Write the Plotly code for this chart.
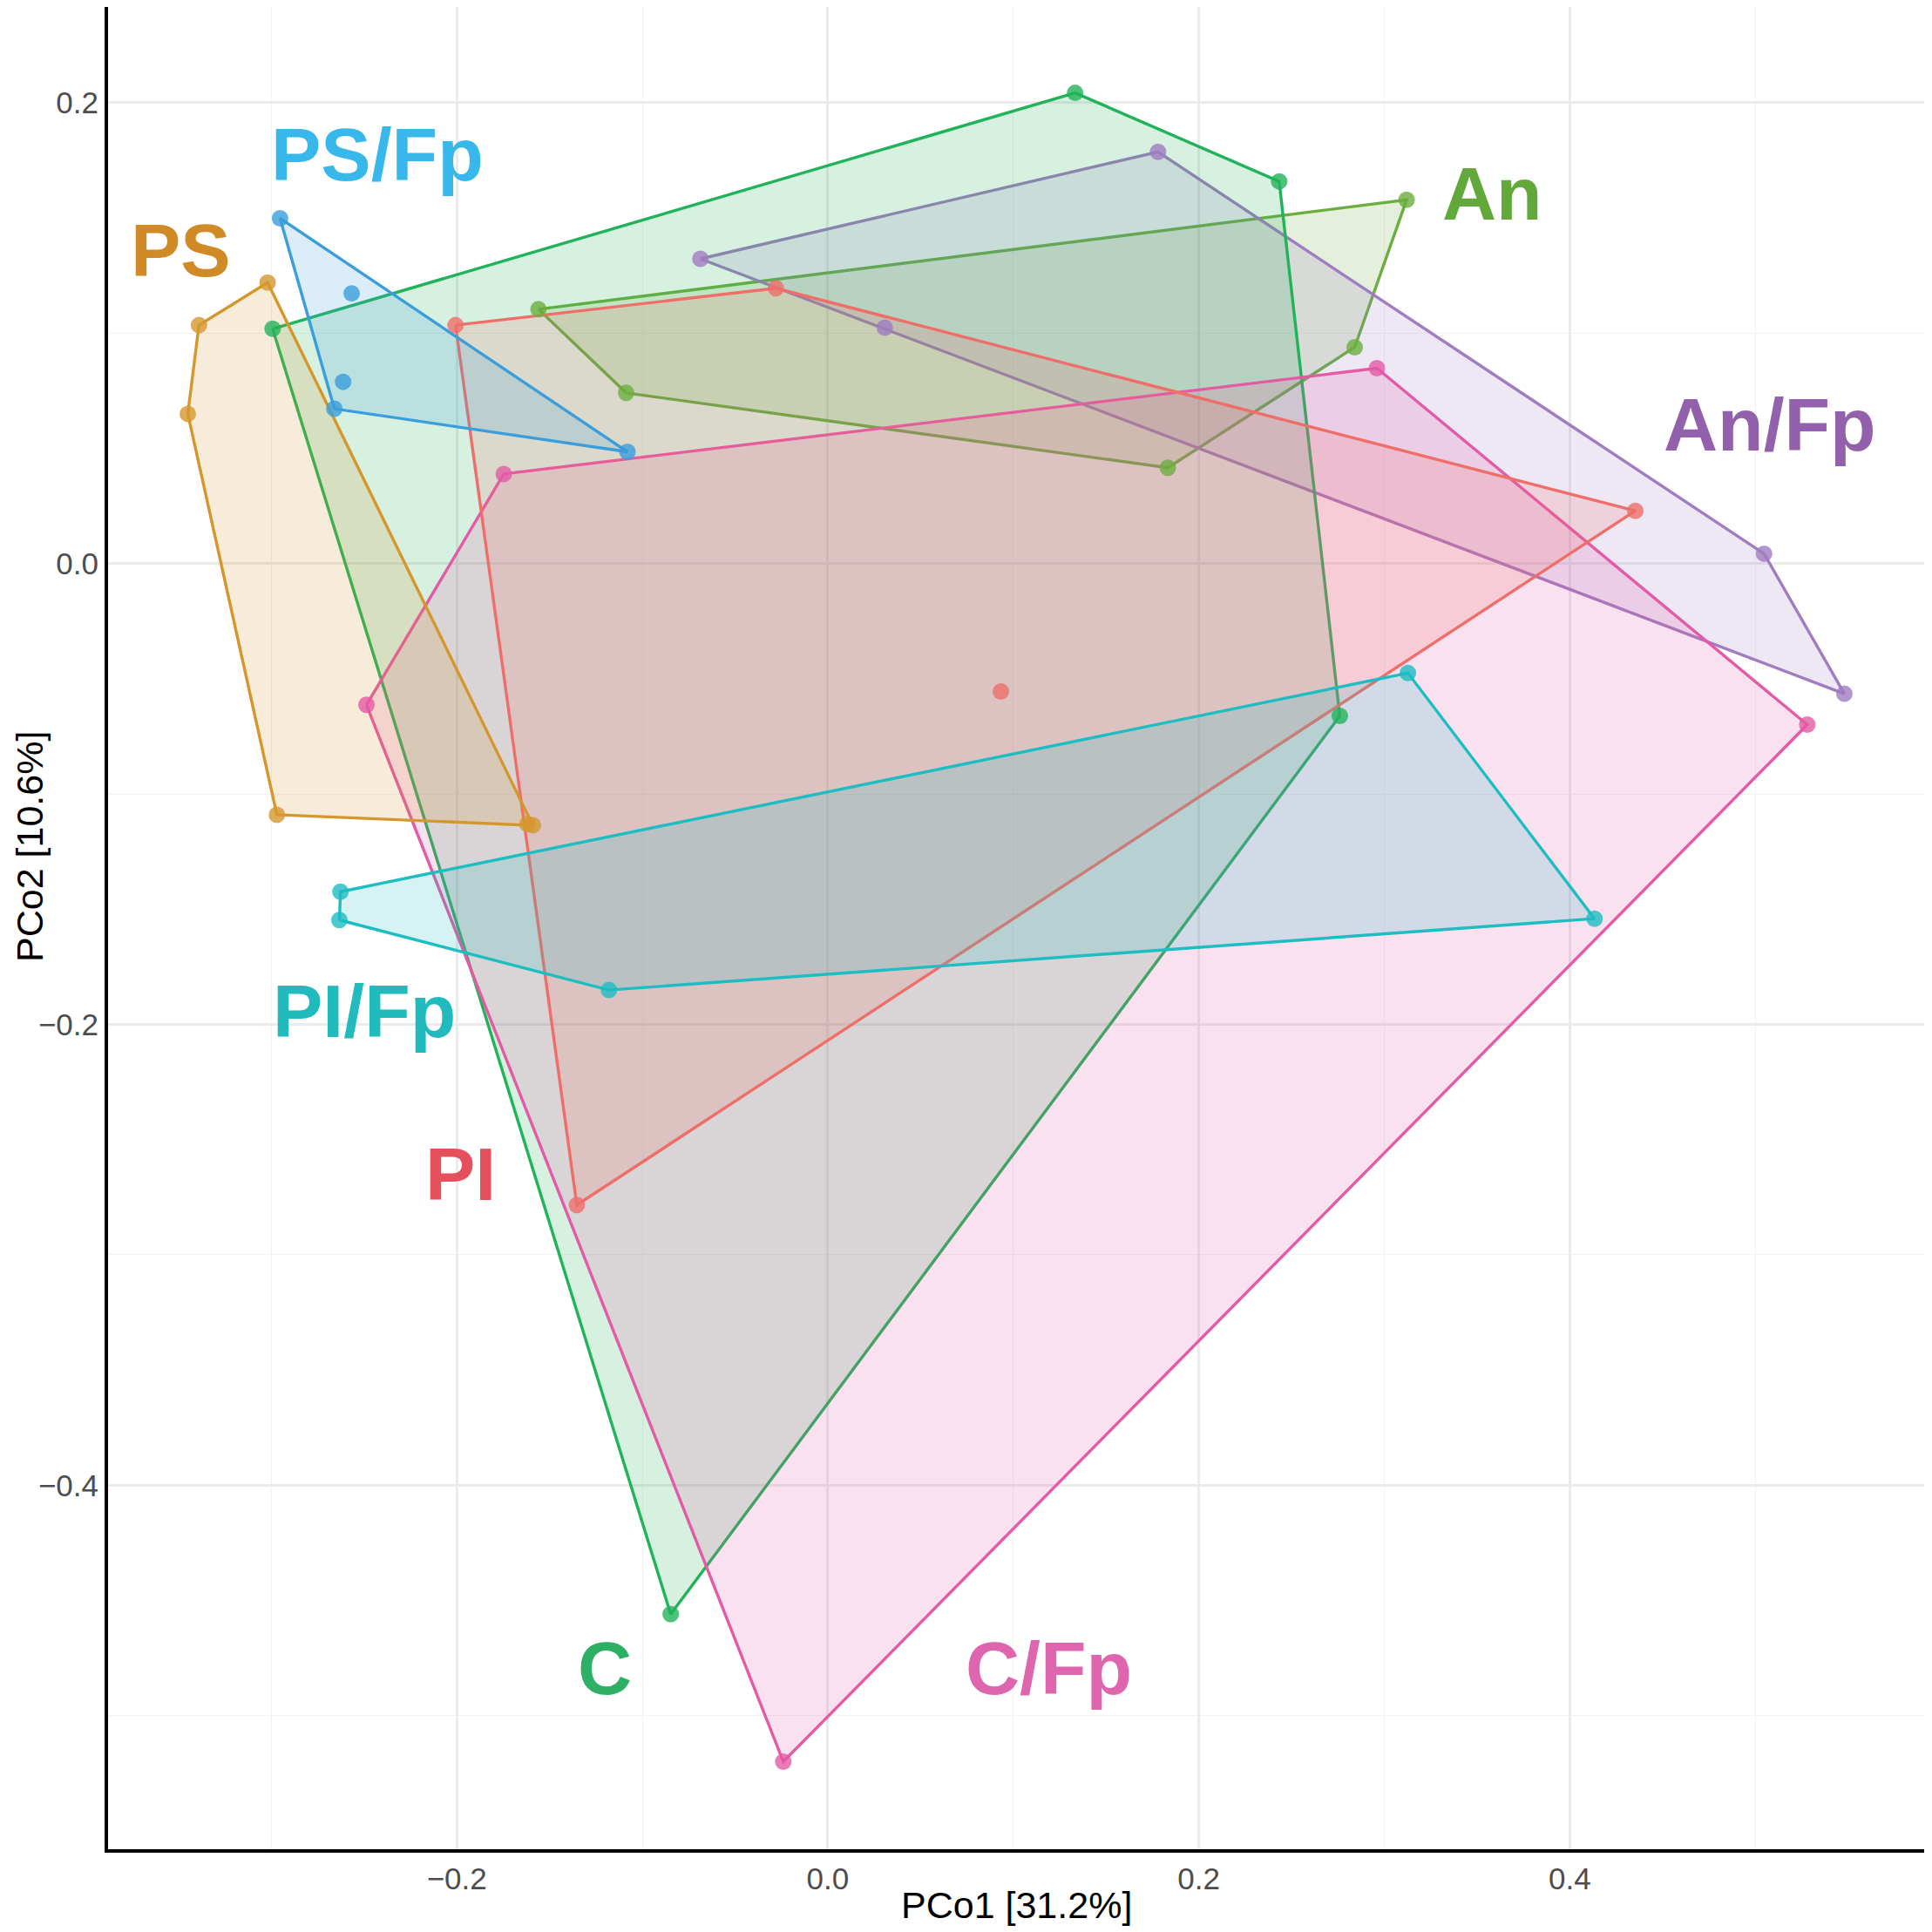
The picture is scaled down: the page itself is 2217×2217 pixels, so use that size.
"""PCoA 凸包图 — 各处理组 PCo1/PCo2 得分。"""

import plotly.graph_objects as go

# 组别及其样本得分 (PCo1, PCo2)
groups = ["An", "An/Fp", "C", "C/Fp", "PI", "PI/Fp", "PS", "PS/Fp"]

an_x = [-0.156, 0.312, 0.284, 0.1833, -0.1087]
an_y = [0.1104, 0.1579, 0.0939, 0.0416, 0.0741]

an_fp_x = [-0.0687, 0.178, 0.5047, 0.548, 0.0307]
an_fp_y = [0.1323, 0.1787, 0.0043, -0.0565, 0.1024]

c_x = [-0.2993, 0.1333, 0.2433, 0.276, -0.0847]
c_y = [0.1019, 0.2043, 0.1659, -0.0661, -0.456]

c_fp_x = [-0.1747, 0.296, 0.528, -0.024, -0.2487]
c_fp_y = [0.0389, 0.0848, -0.0699, -0.52, -0.0613]

pi_x = [-0.2007, -0.028, 0.4353, -0.1353, 0.0933]
pi_y = [0.1035, 0.1195, 0.0229, -0.2784, -0.0555]

pi_fp_x = [-0.2627, -0.2633, -0.118, 0.4133, 0.3127]
pi_fp_y = [-0.1424, -0.1547, -0.1851, -0.1541, -0.0475]

ps_x = [-0.339, -0.302, -0.345, -0.297, -0.159, -0.162]
ps_y = [0.1035, 0.122, 0.065, -0.109, -0.1136, -0.113]

ps_fp_x = [-0.2953, -0.2567, -0.2613, -0.266, -0.108]
ps_fp_y = [0.1499, 0.1173, 0.0789, 0.0672, 0.0485]

scores = {
    "An": (an_x, an_y),
    "An/Fp": (an_fp_x, an_fp_y),
    "C": (c_x, c_y),
    "C/Fp": (c_fp_x, c_fp_y),
    "PI": (pi_x, pi_y),
    "PI/Fp": (pi_fp_x, pi_fp_y),
    "PS": (ps_x, ps_y),
    "PS/Fp": (ps_fp_x, ps_fp_y),
}

# 组标签位置
label_x = [0.358, 0.508, -0.12, 0.1193, -0.198, -0.25, -0.3487, -0.2427]
label_y = [0.1605, 0.0603, -0.4795, -0.4795, -0.265, -0.1941, 0.136, 0.1776]

# 颜色
line_colors = {
    "An": "#6BAE3F", "An/Fp": "#A07CC0", "C": "#22B35A", "C/Fp": "#E35AA5",
    "PI": "#EE6F6A", "PI/Fp": "#1DBDC2", "PS": "#D4972E", "PS/Fp": "#3A9DDC",
}
label_colors = {
    "An": "#62A83A", "An/Fp": "#9361AB", "C": "#2DB066", "C/Fp": "#DE66AE",
    "PI": "#E5505D", "PI/Fp": "#21BBBE", "PS": "#D08B26", "PS/Fp": "#38B8EA",
}


def hex_rgba(hex_color, alpha):
    h = hex_color.lstrip("#")
    r, g, b = int(h[0:2], 16), int(h[2:4], 16), int(h[4:6], 16)
    return f"rgba({r},{g},{b},{alpha})"


def convex_hull(xs, ys):
    """单调链算法求凸包，返回闭合的顶点序列。"""
    pts = sorted(set(zip(xs, ys)))
    if len(pts) < 3:
        return pts

    def cross(o, a, b):
        return (a[0] - o[0]) * (b[1] - o[1]) - (a[1] - o[1]) * (b[0] - o[0])

    lower = []
    for p in pts:
        while len(lower) >= 2 and cross(lower[-2], lower[-1], p) <= 0:
            lower.pop()
        lower.append(p)
    upper = []
    for p in reversed(pts):
        while len(upper) >= 2 and cross(upper[-2], upper[-1], p) <= 0:
            upper.pop()
        upper.append(p)
    hull = lower[:-1] + upper[:-1]
    return hull + [hull[0]]


fig = go.Figure()

# 凸包多边形
for g in groups:
    xs, ys = scores[g]
    hull = convex_hull(xs, ys)
    fig.add_trace(
        go.Scatter(
            x=[p[0] for p in hull],
            y=[p[1] for p in hull],
            mode="lines",
            fill="toself",
            fillcolor=hex_rgba(line_colors[g], 0.18),
            line=dict(color=line_colors[g], width=3.4),
            hoverinfo="skip",
            showlegend=False,
        )
    )

# 样本点
for g in groups:
    xs, ys = scores[g]
    fig.add_trace(
        go.Scatter(
            x=xs,
            y=ys,
            mode="markers",
            marker=dict(color=line_colors[g], size=19, opacity=0.8),
            name=g,
            showlegend=False,
        )
    )

# 组名标签
for g, lx, ly in zip(groups, label_x, label_y):
    fig.add_annotation(
        x=lx, y=ly, text=f"<b>{g}</b>", showarrow=False,
        font=dict(family="Liberation Sans", size=86, color=label_colors[g]),
        xanchor="center", yanchor="middle",
    )

# 轴标题
fig.add_annotation(
    x=0.5, y=0, xref="paper", yref="paper", text="PCo1 [31.2%]",
    showarrow=False, yshift=-64, yanchor="middle",
    font=dict(family="Liberation Sans", size=43, color="black"),
)
fig.add_annotation(
    x=0, y=0.544, xref="paper", yref="paper", text="PCo2 [10.6%]",
    showarrow=False, xshift=-90, xanchor="center", textangle=-90,
    font=dict(family="Liberation Sans", size=43, color="black"),
)

axis_common = dict(
    showgrid=True,
    gridcolor="#EBEBEB",
    gridwidth=2.5,
    minor=dict(showgrid=True, gridcolor="#F2F2F2", gridwidth=1.3, dtick=0.1),
    zeroline=False,
    showline=True,
    linecolor="black",
    linewidth=4,
    ticks="",
    tickfont=dict(family="Liberation Sans", size=35, color="#4D4D4D"),
    tickformat=".1f",
    dtick=0.2,
    tick0=0,
)

fig.update_xaxes(range=[-0.388, 0.591], **axis_common)
fig.update_yaxes(range=[-0.558, 0.2416], **axis_common)

# 页面 body 自带约 8px 边距，故画布略小于窗口
fig.update_layout(
    width=2209,
    height=2209,
    margin=dict(l=116, r=9, t=0, b=95),
    plot_bgcolor="white",
    paper_bgcolor="white",
    font=dict(family="Liberation Sans"),
    showlegend=False,
)

fig.write_html("out.html")
